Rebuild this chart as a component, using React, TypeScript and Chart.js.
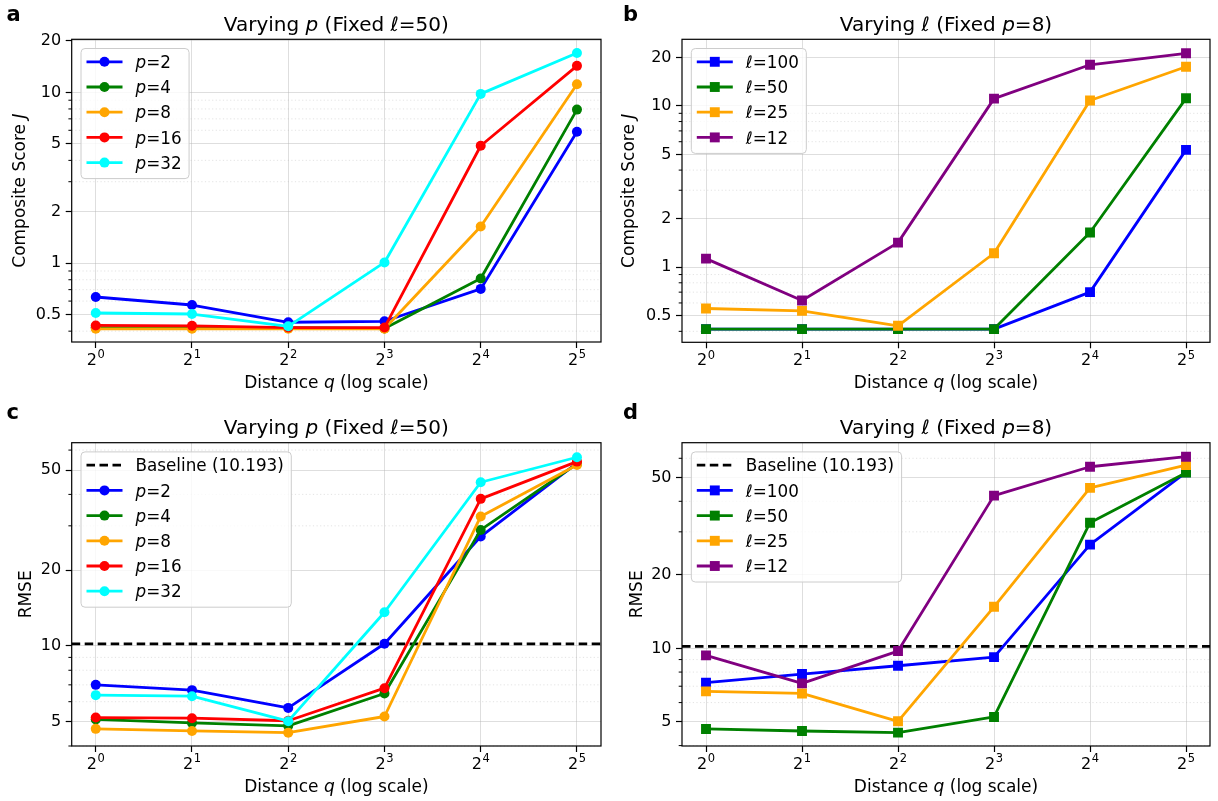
import React, { useEffect, useRef } from 'react';
import { Chart, registerables } from 'chart.js';

Chart.register(...registerables);

const FONT = '"DejaVu Sans", sans-serif';

// ---- shared x axis ----
const Q_VALUES = [1, 2, 4, 8, 16, 32];
const Q_TICK_BASE = '2';
const Q_TICK_EXPONENTS = ['0', '1', '2', '3', '4', '5'];
const X_MIN = 0.8409; // axis limit 2^-0.25
const X_MAX = 38.05; // axis limit 2^5.25

// ---- series parameters ----
const P_VALUES = [2, 4, 8, 16, 32];
const L_VALUES = [100, 50, 25, 12];
const P_COLORS = ['#0000ff', '#008000', '#ffa500', '#ff0000', '#00ffff'];
const L_COLORS = ['#0000ff', '#008000', '#ffa500', '#800080'];

// ---- panel a: Composite score J, varying p (fixed l=50) ----
const J_P2 = [0.634, 0.569, 0.451, 0.457, 0.707, 5.89];
const J_P4 = [0.42, 0.42, 0.42, 0.415, 0.813, 7.93];
const J_P8 = [0.413, 0.413, 0.413, 0.413, 1.64, 11.15];
const J_P16 = [0.432, 0.43, 0.42, 0.42, 4.87, 14.3];
const J_P32 = [0.511, 0.504, 0.427, 1.01, 9.8, 17.0];

// ---- panel b: Composite score J, varying l (fixed p=8) ----
const J_L100 = [0.413, 0.413, 0.413, 0.413, 0.7, 5.34];
const J_L50 = [0.413, 0.413, 0.413, 0.413, 1.64, 11.15];
const J_L25 = [0.554, 0.536, 0.433, 1.22, 10.8, 17.5];
const J_L12 = [1.13, 0.621, 1.42, 11.1, 18.0, 21.2];

// ---- panel c: RMSE, varying p ----
const RMSE_P2 = [7.0, 6.67, 5.67, 10.2, 27.2, 53.2];
const RMSE_P4 = [5.1, 4.94, 4.81, 6.47, 28.9, 52.9];
const RMSE_P8 = [4.68, 4.59, 4.52, 5.24, 32.7, 52.4];
const RMSE_P16 = [5.19, 5.16, 5.04, 6.79, 38.4, 54.0];
const RMSE_P32 = [6.37, 6.31, 5.02, 13.6, 44.7, 56.2];

// ---- panel d: RMSE, varying l ----
const RMSE_L100 = [7.24, 7.85, 8.49, 9.21, 26.6, 52.6];
const RMSE_L50 = [4.68, 4.59, 4.52, 5.24, 32.7, 52.4];
const RMSE_L25 = [6.67, 6.54, 5.03, 14.8, 45.4, 56.3];
const RMSE_L12 = [9.36, 7.19, 9.75, 42.2, 55.4, 60.9];

const BASELINE_RMSE = 10.193;

// ---- y axis ticks / limits ----
const J_MAJOR_TICKS = [0.5, 1, 2, 5, 10, 20];
const J_MINOR_TICKS = [0.4, 0.6, 0.7, 0.8, 0.9, 3, 4, 6, 7, 8, 9];
const RMSE_MAJOR_TICKS = [5, 10, 20, 50];
const RMSE_MINOR_TICKS = [4, 6, 7, 8, 9, 30, 40, 60];
const Y_LIMITS_A = [0.3456, 20.46];
const Y_LIMITS_B = [0.342, 25.9];
const Y_LIMITS_C = [4.0, 64.2];
const Y_LIMITS_D = [3.985, 69.5];

type Seg = { t: string; i?: boolean };
interface Series { label: string; color: string; values: number[] }
interface PanelSpec {
  key: string;
  letter: string;
  letterPos: [number, number];
  pageX: number;
  pageY: number;
  w: number;
  h: number;
  pad: { left: number; top: number; right: number; bottom: number };
  title: Seg[];
  yTitle: Seg[];
  yTitleOffset: number;
  xTitle: Seg[];
  yLimits: number[];
  major: number[];
  minor: number[];
  series: Series[];
  marker: 'circle' | 'rect';
  baseline?: number;
}

const TITLE_P: Seg[] = [{ t: 'Varying ' }, { t: 'p', i: true }, { t: ' (Fixed ' }, { t: 'ℓ', i: true }, { t: '=50)' }];
const TITLE_L: Seg[] = [{ t: 'Varying ' }, { t: 'ℓ', i: true }, { t: ' (Fixed ' }, { t: 'p', i: true }, { t: '=8)' }];
const X_TITLE: Seg[] = [{ t: 'Distance ' }, { t: 'q', i: true }, { t: ' (log scale)' }];
const Y_TITLE_J: Seg[] = [{ t: 'Composite Score ' }, { t: 'J', i: true }];
const Y_TITLE_RMSE: Seg[] = [{ t: 'RMSE' }];

const pSeries = (vals: number[][]): Series[] =>
  P_VALUES.map((p, k) => ({ label: `p=${p}`, color: P_COLORS[k], values: vals[k] }));
const lSeries = (vals: number[][]): Series[] =>
  L_VALUES.map((l, k) => ({ label: `ℓ=${l}`, color: L_COLORS[k], values: vals[k] }));

const PANELS: PanelSpec[] = [
  {
    key: 'a', letter: 'a', letterPos: [6.5, 20.5], pageX: 0, pageY: 0, w: 609, h: 400,
    pad: { left: 71.7, top: 39.3, right: 8, bottom: 58 },
    title: TITLE_P, yTitle: Y_TITLE_J, yTitleOffset: 47, xTitle: X_TITLE,
    yLimits: Y_LIMITS_A, major: J_MAJOR_TICKS, minor: J_MINOR_TICKS,
    series: pSeries([J_P2, J_P4, J_P8, J_P16, J_P32]), marker: 'circle',
  },
  {
    key: 'b', letter: 'b', letterPos: [14, 20.5], pageX: 609, pageY: 0, w: 609, h: 400,
    pad: { left: 73, top: 39.3, right: 8, bottom: 57.7 },
    title: TITLE_L, yTitle: Y_TITLE_J, yTitleOffset: 48, xTitle: X_TITLE,
    yLimits: Y_LIMITS_B, major: J_MAJOR_TICKS, minor: J_MINOR_TICKS,
    series: lSeries([J_L100, J_L50, J_L25, J_L12]), marker: 'rect',
  },
  {
    key: 'c', letter: 'c', letterPos: [6.5, 18.5], pageX: 0, pageY: 400, w: 609, h: 401,
    pad: { left: 71.7, top: 42.7, right: 8, bottom: 55 },
    title: TITLE_P, yTitle: Y_TITLE_RMSE, yTitleOffset: 40.5, xTitle: X_TITLE,
    yLimits: Y_LIMITS_C, major: RMSE_MAJOR_TICKS, minor: RMSE_MINOR_TICKS,
    series: pSeries([RMSE_P2, RMSE_P4, RMSE_P8, RMSE_P16, RMSE_P32]), marker: 'circle',
    baseline: BASELINE_RMSE,
  },
  {
    key: 'd', letter: 'd', letterPos: [14, 19], pageX: 609, pageY: 400, w: 609, h: 401,
    pad: { left: 73, top: 42.7, right: 8, bottom: 55 },
    title: TITLE_L, yTitle: Y_TITLE_RMSE, yTitleOffset: 40.5, xTitle: X_TITLE,
    yLimits: Y_LIMITS_D, major: RMSE_MAJOR_TICKS, minor: RMSE_MINOR_TICKS,
    series: lSeries([RMSE_L100, RMSE_L50, RMSE_L25, RMSE_L12]), marker: 'rect',
    baseline: BASELINE_RMSE,
  },
];

const LINE_W = 2.8;
const CIRCLE_R = 5;
const RECT_R = 7;
const GRID = 'rgba(176,176,176,0.42)';
const MINOR_GRID = 'rgba(176,176,176,0.35)';

function segFont(s: Seg, size: number) {
  return `${s.i ? 'italic ' : ''}${size}px ${FONT}`;
}

function drawSegs(ctx: CanvasRenderingContext2D, segs: Seg[], x: number, y: number, size: number, align: 'left' | 'center') {
  const widths = segs.map((s) => {
    ctx.font = segFont(s, size);
    return ctx.measureText(s.t).width;
  });
  const total = widths.reduce((a, b) => a + b, 0);
  let cx = align === 'center' ? x - total / 2 : x;
  ctx.textAlign = 'left';
  ctx.textBaseline = 'alphabetic';
  segs.forEach((s, k) => {
    ctx.font = segFont(s, size);
    ctx.fillText(s.t, cx, y);
    cx += widths[k];
  });
  return total;
}

function labelSegs(label: string): Seg[] {
  if (/^[pℓ]=/.test(label)) return [{ t: label[0], i: true }, { t: label.slice(1) }];
  return [{ t: label }];
}

function measureSegs(ctx: CanvasRenderingContext2D, segs: Seg[], size: number) {
  return segs.reduce((acc, s) => {
    ctx.font = segFont(s, size);
    return acc + ctx.measureText(s.t).width;
  }, 0);
}

function drawMarker(ctx: CanvasRenderingContext2D, style: string, x: number, y: number, r: number, color: string) {
  ctx.fillStyle = color;
  ctx.beginPath();
  if (style === 'rect') {
    const h = r * Math.SQRT1_2;
    ctx.rect(x - h, y - h, 2 * h, 2 * h);
  } else {
    ctx.arc(x, y, r, 0, Math.PI * 2);
  }
  ctx.fill();
}

function Panel({ spec }: { spec: PanelSpec }) {
  const ref = useRef<HTMLCanvasElement | null>(null);

  useEffect(() => {
    const canvas = ref.current;
    if (!canvas) return;
    const markerR = spec.marker === 'rect' ? RECT_R : CIRCLE_R;

    const datasets: any[] = [];
    if (spec.baseline !== undefined) {
      datasets.push({
        label: `Baseline (${spec.baseline})`,
        data: [{ x: X_MIN, y: spec.baseline }, { x: X_MAX, y: spec.baseline }],
        borderColor: '#000000',
        backgroundColor: '#000000',
        borderWidth: LINE_W,
        borderDash: [8.5, 4.5],
        pointRadius: 0,
        pointHoverRadius: 0,
        tension: 0,
        fill: false,
      });
    }
    spec.series.forEach((s) => {
      datasets.push({
        label: s.label,
        data: Q_VALUES.map((q, k) => ({ x: q, y: s.values[k] })),
        borderColor: s.color,
        backgroundColor: s.color,
        borderWidth: LINE_W,
        borderJoinStyle: 'round',
        borderCapStyle: 'round',
        pointStyle: spec.marker,
        pointRadius: markerR,
        pointHoverRadius: markerR,
        pointBackgroundColor: s.color,
        pointBorderColor: s.color,
        pointBorderWidth: 0,
        tension: 0,
        fill: false,
      });
    });
    datasets.forEach((d, i) => {
      d.order = datasets.length - i;
    });

    const decor = {
      id: 'decor' + spec.key,
      beforeDatasetsDraw(chart: any) {
        const ctx: CanvasRenderingContext2D = chart.ctx;
        const ca = chart.chartArea;
        const ys = chart.scales.y;
        ctx.save();
        spec.minor.forEach((v) => {
          const y = ys.getPixelForValue(v);
          if (y < ca.top - 0.5 || y > ca.bottom + 0.5) return;
          ctx.strokeStyle = MINOR_GRID;
          ctx.lineWidth = 1;
          ctx.setLineDash([1.2, 2.4]);
          ctx.beginPath();
          ctx.moveTo(ca.left, y);
          ctx.lineTo(ca.right, y);
          ctx.stroke();
          ctx.setLineDash([]);
          ctx.strokeStyle = '#000';
          ctx.lineWidth = 1;
          ctx.beginPath();
          ctx.moveTo(ca.left - 3.3, y);
          ctx.lineTo(ca.left, y);
          ctx.stroke();
        });
        ctx.restore();
      },
      afterDatasetsDraw(chart: any) {
        const ctx: CanvasRenderingContext2D = chart.ctx;
        const ca = chart.chartArea;
        ctx.save();
        ctx.strokeStyle = '#000';
        ctx.lineWidth = 1.2;
        ctx.strokeRect(ca.left, ca.top, ca.right - ca.left, ca.bottom - ca.top);
        ctx.restore();
      },
      afterDraw(chart: any) {
        const ctx: CanvasRenderingContext2D = chart.ctx;
        const ca = chart.chartArea;
        const xs = chart.scales.x;
        ctx.save();
        ctx.fillStyle = '#000';
        ctx.textAlign = 'left';
        ctx.textBaseline = 'alphabetic';
        // x tick labels 2^k with real superscripts
        Q_VALUES.forEach((q, k) => {
          const px = xs.getPixelForValue(q);
          ctx.font = `16px ${FONT}`;
          const w1 = ctx.measureText(Q_TICK_BASE).width;
          ctx.font = `11.5px ${FONT}`;
          const w2 = ctx.measureText(Q_TICK_EXPONENTS[k]).width;
          const left = px - (w1 + w2 + 0.5) / 2;
          const base = ca.bottom + 23;
          ctx.font = `16px ${FONT}`;
          ctx.fillText(Q_TICK_BASE, left, base);
          ctx.font = `11.5px ${FONT}`;
          ctx.fillText(Q_TICK_EXPONENTS[k], left + w1 + 0.5, base - 6.8);
        });
        // panel letter
        ctx.font = `bold 21px ${FONT}`;
        ctx.fillText(spec.letter, spec.letterPos[0], spec.letterPos[1]);
        // title
        const cx = (ca.left + ca.right) / 2;
        drawSegs(ctx, spec.title, cx, ca.top - 8.6, 20, 'center');
        // x title
        drawSegs(ctx, spec.xTitle, cx, ca.bottom + 45.7, 17, 'center');
        // y title
        ctx.save();
        ctx.translate(ca.left - spec.yTitleOffset, (ca.top + ca.bottom) / 2);
        ctx.rotate(-Math.PI / 2);
        drawSegs(ctx, spec.yTitle, 0, 0, 17, 'center');
        ctx.restore();

        // legend
        const ds = chart.data.datasets;
        const fs = 16.8;
        const rowH = 25.2;
        const bx = ca.left + 9.3;
        const by = ca.top + 9.2;
        const textW = Math.max(...ds.map((d: any) => measureSegs(ctx, labelSegs(d.label), fs)));
        const bw = 54.5 + textW + 7.5;
        const bh = 13.3 + (ds.length - 1) * rowH + 16;
        ctx.beginPath();
        if ((ctx as any).roundRect) (ctx as any).roundRect(bx, by, bw, bh, 4);
        else ctx.rect(bx, by, bw, bh);
        ctx.fillStyle = 'rgba(255,255,255,0.8)';
        ctx.fill();
        ctx.strokeStyle = '#cccccc';
        ctx.lineWidth = 1;
        ctx.stroke();
        ds.forEach((d: any, k: number) => {
          const yy = by + 13.3 + k * rowH;
          ctx.strokeStyle = d.borderColor;
          ctx.lineWidth = d.borderWidth;
          ctx.setLineDash(d.borderDash || []);
          ctx.lineCap = 'butt';
          ctx.beginPath();
          ctx.moveTo(bx + 5.5, yy);
          ctx.lineTo(bx + 41.5, yy);
          ctx.stroke();
          ctx.setLineDash([]);
          if (d.pointRadius > 0) drawMarker(ctx, d.pointStyle, bx + 23.5, yy, d.pointRadius, d.borderColor);
          ctx.fillStyle = '#000';
          drawSegs(ctx, labelSegs(d.label), bx + 54.5, yy + 6.1, fs, 'left');
        });
        ctx.restore();
      },
    };

    const chart = new Chart(canvas, {
      type: 'line',
      data: { datasets },
      options: {
        responsive: false,
        animation: false,
        devicePixelRatio: 1,
        events: [],
        layout: { padding: { left: 0, top: spec.pad.top, right: spec.pad.right, bottom: 0 } },
        plugins: {
          legend: { display: false },
          tooltip: { enabled: false },
          title: { display: false },
        },
        scales: {
          x: {
            type: 'logarithmic',
            position: 'bottom',
            bounds: 'data',
            min: X_MIN,
            max: X_MAX,
            afterFit: (s: any) => {
              s.height = spec.pad.bottom;
            },
            afterBuildTicks: (s: any) => {
              s.ticks = Q_VALUES.map((v) => ({ value: v }));
            },
            ticks: {
              display: false,
              autoSkip: false,
              maxRotation: 0,
              minRotation: 0,
            },
            grid: { color: GRID, lineWidth: 1, drawTicks: true, tickLength: 6, tickColor: '#000', tickWidth: 1.2 },
            border: { display: false },
          },
          y: {
            type: 'logarithmic',
            position: 'left',
            bounds: 'data',
            min: spec.yLimits[0],
            max: spec.yLimits[1],
            afterFit: (s: any) => {
              s.width = spec.pad.left;
            },
            afterBuildTicks: (s: any) => {
              s.ticks = spec.major.map((v) => ({ value: v }));
            },
            ticks: {
              autoSkip: false,
              padding: 4.5,
              color: '#000',
              font: { family: FONT, size: 16 },
              callback: (v: any) => String(v),
            },
            grid: { color: GRID, lineWidth: 1, drawTicks: true, tickLength: 6, tickColor: '#000', tickWidth: 1.2 },
            border: { display: false },
          },
        },
      } as any,
      plugins: [decor],
    });
    return () => chart.destroy();
  }, [spec]);

  return (
    <canvas
      ref={ref}
      width={spec.w}
      height={spec.h}
      style={{ position: 'absolute', left: spec.pageX, top: spec.pageY, width: spec.w, height: spec.h }}
    />
  );
}

export default function App() {
  return (
    <div style={{ position: 'fixed', left: 0, top: 0, width: 1218, height: 801, background: '#ffffff', overflow: 'hidden' }}>
      {PANELS.map((p) => (
        <Panel key={p.key} spec={p} />
      ))}
    </div>
  );
}
